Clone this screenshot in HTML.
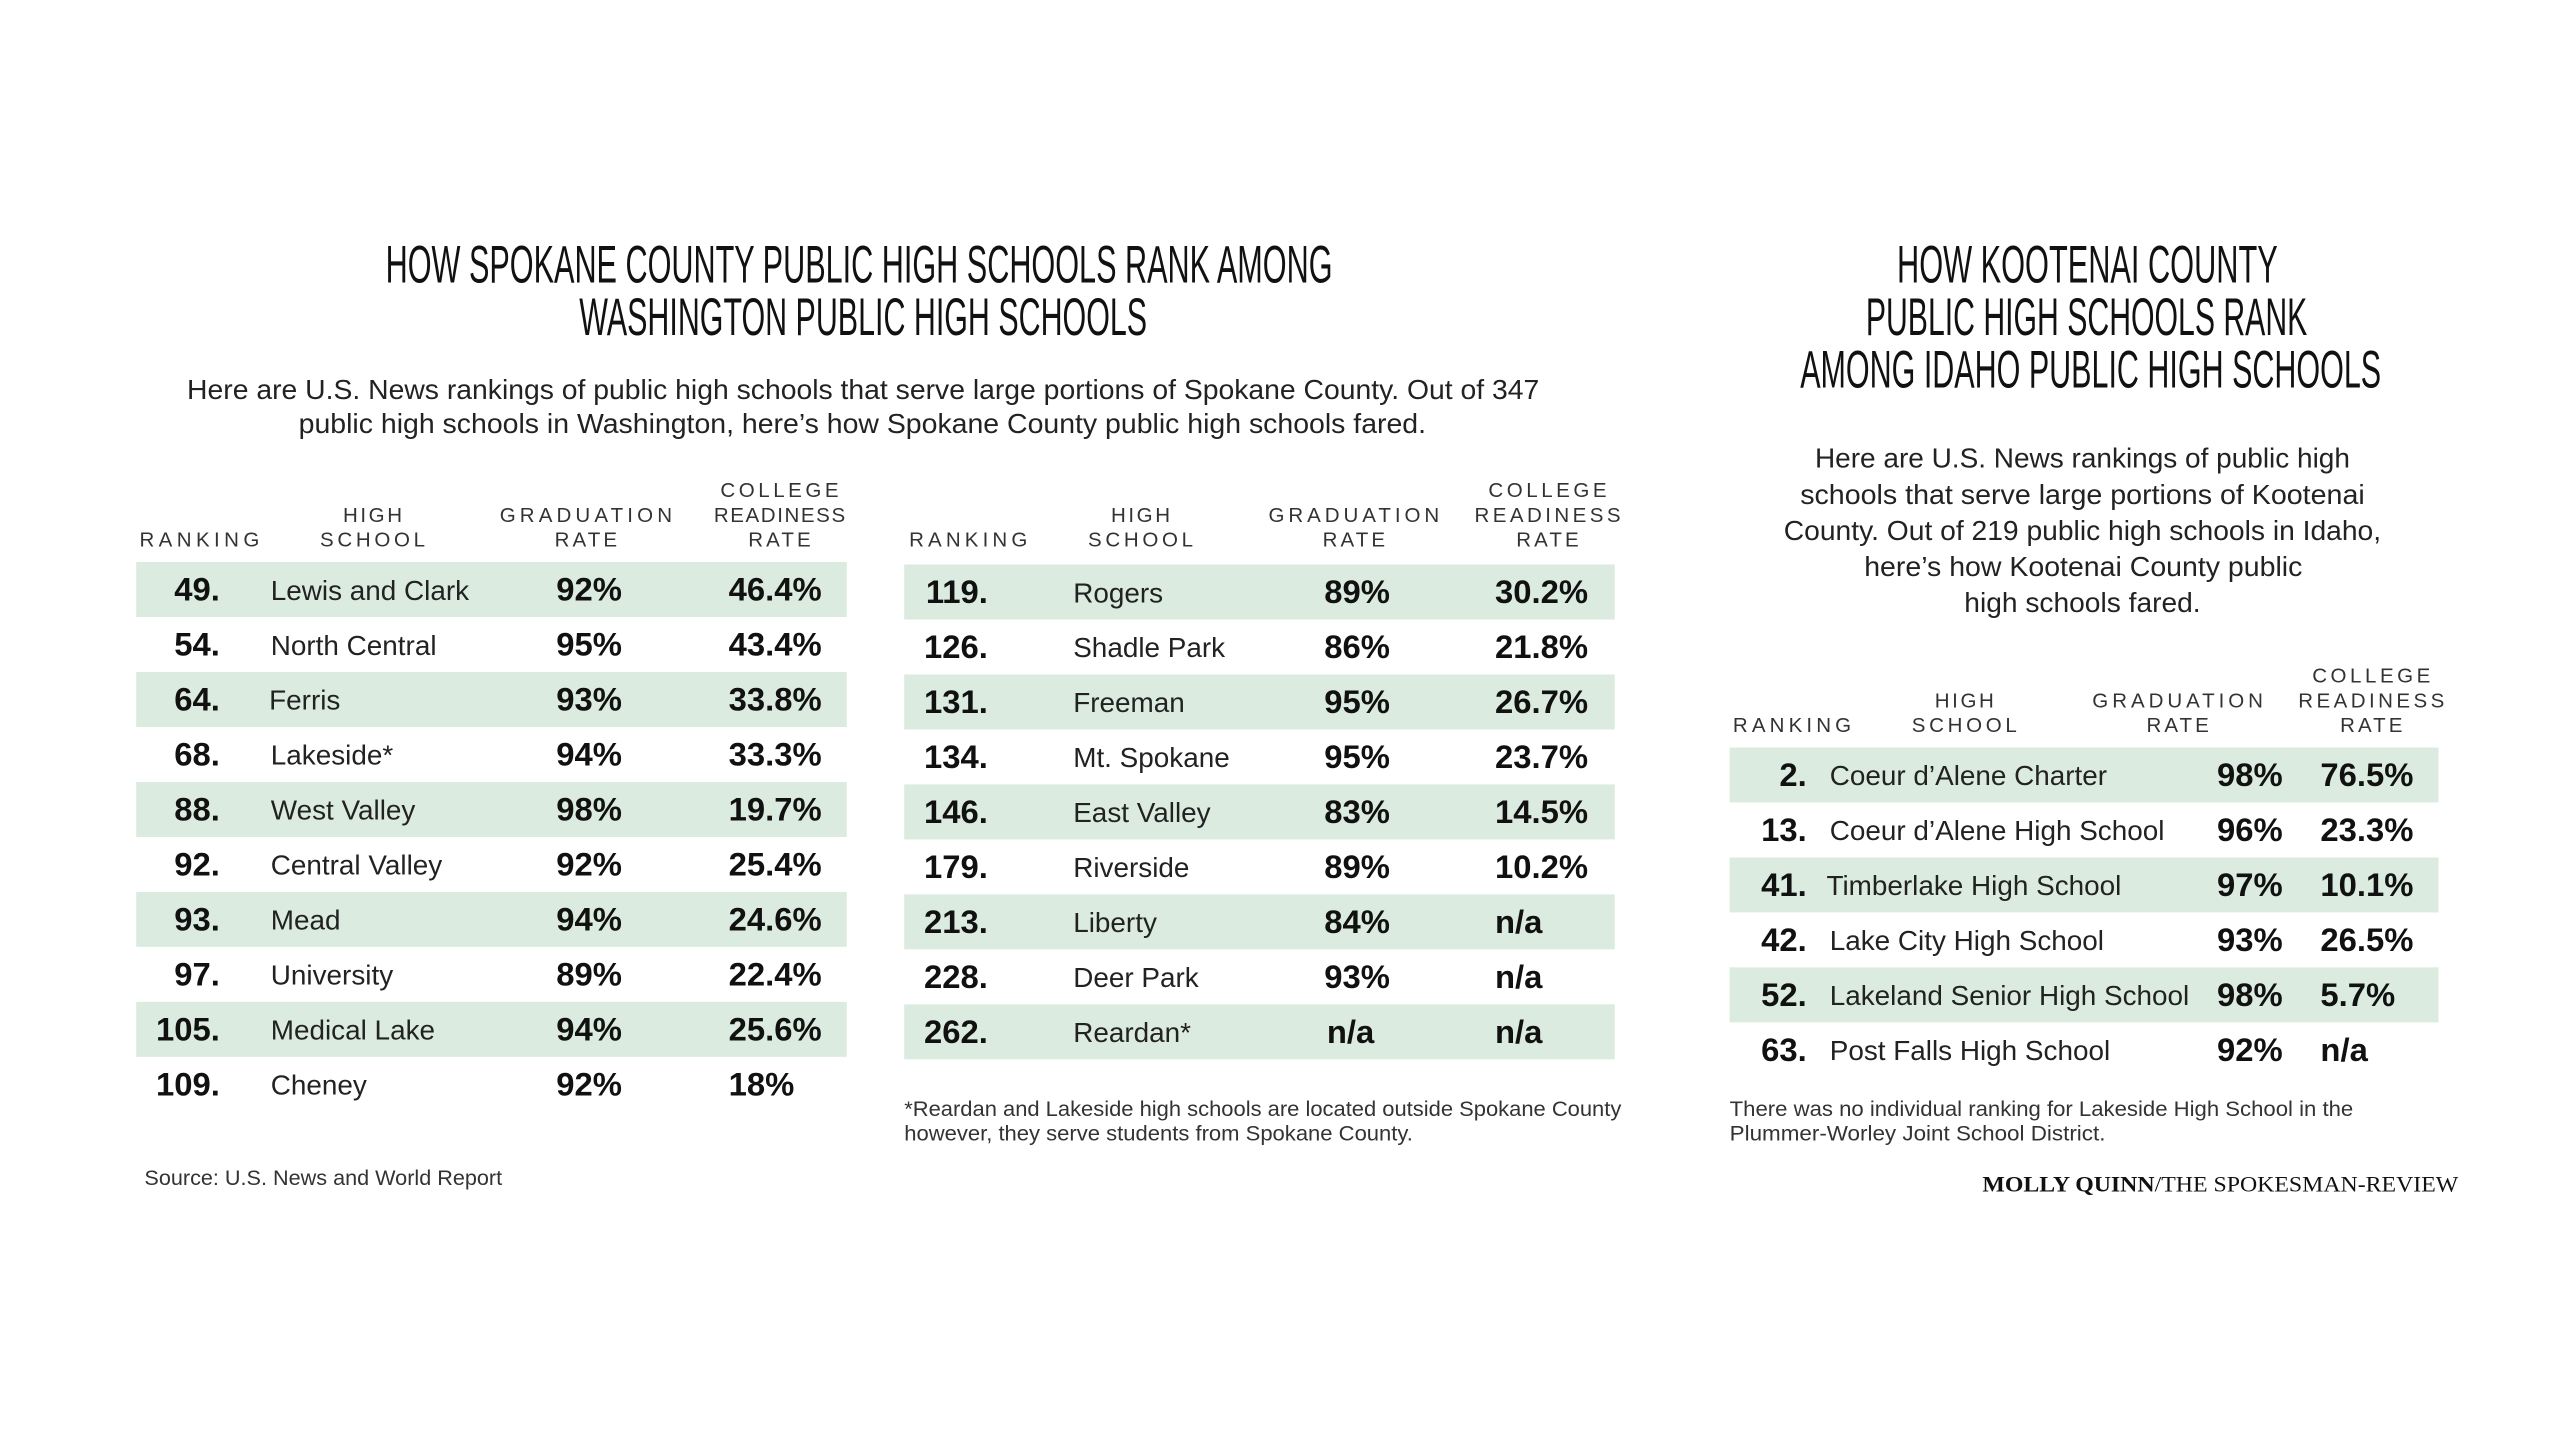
<!DOCTYPE html>
<html><head><meta charset="utf-8">
<style>
html,body{margin:0;padding:0;background:#fff;width:2560px;height:1441px;overflow:hidden}
svg{display:block}
.t{font-family:"Liberation Sans Narrow","Liberation Sans",sans-serif;fill:#111}
.p{font-family:"Liberation Sans",sans-serif;fill:#222}
.h{font-family:"Liberation Sans",sans-serif;fill:#333;font-size:12.5px}
.b{font-family:"Liberation Sans",sans-serif;font-weight:bold;fill:#111;font-size:20px}
.n{font-family:"Liberation Sans",sans-serif;fill:#222;font-size:17px}
.f{font-family:"Liberation Sans",sans-serif;fill:#333;font-size:13px}
</style></head><body>
<svg width="2560" height="1441" viewBox="0 0 1560 878.1" xmlns="http://www.w3.org/2000/svg">
<rect width="1560" height="878.1" fill="#fff"/>
<!-- Left title -->
<text class="t" x="235" y="172" font-size="32" textLength="577" lengthAdjust="spacingAndGlyphs">HOW SPOKANE COUNTY PUBLIC HIGH SCHOOLS RANK AMONG</text>
<text class="t" x="353" y="204" font-size="32" textLength="346" lengthAdjust="spacingAndGlyphs">WASHINGTON PUBLIC HIGH SCHOOLS</text>
<text class="p" x="114" y="243" font-size="17" textLength="824" lengthAdjust="spacingAndGlyphs">Here are U.S. News rankings of public high schools that serve large portions of Spokane County. Out of 347</text>
<text class="p" x="182" y="264" font-size="17" textLength="687" lengthAdjust="spacingAndGlyphs">public high schools in Washington, here’s how Spokane County public high schools fared.</text>

<!-- Table 1 headers -->
<g class="h" text-anchor="middle">
<text x="121.5" y="333" textLength="73" lengthAdjust="spacing">RANKING</text>
<text x="227" y="318" textLength="36" lengthAdjust="spacing">HIGH</text>
<text x="227" y="333" textLength="64" lengthAdjust="spacing">SCHOOL</text>
<text x="357" y="318" textLength="105" lengthAdjust="spacing">GRADUATION</text>
<text x="357" y="333" textLength="38" lengthAdjust="spacing">RATE</text>
<text x="475" y="303" textLength="72" lengthAdjust="spacing">COLLEGE</text>
<text x="475" y="318" textLength="80" lengthAdjust="spacing">READINESS</text>
<text x="475" y="333" textLength="38" lengthAdjust="spacing">RATE</text>
</g>
<!-- Table 2 headers -->
<g class="h" text-anchor="middle">
<text x="590" y="333" textLength="72" lengthAdjust="spacing">RANKING</text>
<text x="695" y="318" textLength="36" lengthAdjust="spacing">HIGH</text>
<text x="695" y="333" textLength="64" lengthAdjust="spacing">SCHOOL</text>
<text x="825" y="318" textLength="104" lengthAdjust="spacing">GRADUATION</text>
<text x="825" y="333" textLength="38" lengthAdjust="spacing">RATE</text>
<text x="943" y="303" textLength="72" lengthAdjust="spacing">COLLEGE</text>
<text x="943" y="318" textLength="89" lengthAdjust="spacing">READINESS</text>
<text x="943" y="333" textLength="38" lengthAdjust="spacing">RATE</text>
</g>

<!-- Table 1 rows -->
<g fill="#dbebdf">
<rect x="83" y="342.5" width="433" height="33.5"/>
<rect x="83" y="409.5" width="433" height="33.5"/>
<rect x="83" y="476.5" width="433" height="33.5"/>
<rect x="83" y="543.5" width="433" height="33.5"/>
<rect x="83" y="610.5" width="433" height="33.5"/>
</g>
<g class="b" text-anchor="end">
<text x="134" y="366">49.</text><text x="134" y="399.5">54.</text><text x="134" y="433">64.</text><text x="134" y="466.5">68.</text><text x="134" y="500">88.</text><text x="134" y="533.5">92.</text><text x="134" y="567">93.</text><text x="134" y="600.5">97.</text><text x="134" y="634">105.</text><text x="134" y="667.5">109.</text>
</g>
<g class="n">
<text x="165" y="365.5">Lewis and Clark</text><text x="165" y="399">North Central</text><text x="164" y="432.5">Ferris</text><text x="165" y="466">Lakeside*</text><text x="165" y="499.5">West Valley</text><text x="165" y="533">Central Valley</text><text x="165" y="566.5">Mead</text><text x="165" y="600">University</text><text x="165" y="633.5">Medical Lake</text><text x="165" y="667">Cheney</text>
</g>
<g class="b" text-anchor="middle">
<text x="359" y="366">92%</text><text x="359" y="399.5">95%</text><text x="359" y="433">93%</text><text x="359" y="466.5">94%</text><text x="359" y="500">98%</text><text x="359" y="533.5">92%</text><text x="359" y="567">94%</text><text x="359" y="600.5">89%</text><text x="359" y="634">94%</text><text x="359" y="667.5">92%</text>
</g>
<g class="b">
<text x="444" y="366">46.4%</text><text x="444" y="399.5">43.4%</text><text x="444" y="433">33.8%</text><text x="444" y="466.5">33.3%</text><text x="444" y="500">19.7%</text><text x="444" y="533.5">25.4%</text><text x="444" y="567">24.6%</text><text x="444" y="600.5">22.4%</text><text x="444" y="634">25.6%</text><text x="444" y="667.5">18%</text>
</g>

<!-- Table 2 rows -->
<g fill="#dbebdf">
<rect x="551" y="344" width="433" height="33.5"/>
<rect x="551" y="411" width="433" height="33.5"/>
<rect x="551" y="478" width="433" height="33.5"/>
<rect x="551" y="545" width="433" height="33.5"/>
<rect x="551" y="612" width="433" height="33.5"/>
</g>
<g class="b" text-anchor="end">
<text x="602" y="367.5">119.</text><text x="602" y="401">126.</text><text x="602" y="434.5">131.</text><text x="602" y="468">134.</text><text x="602" y="501.5">146.</text><text x="602" y="535">179.</text><text x="602" y="568.5">213.</text><text x="602" y="602">228.</text><text x="602" y="635.5">262.</text>
</g>
<g class="n">
<text x="654" y="367">Rogers</text><text x="654" y="400.5">Shadle Park</text><text x="654" y="434">Freeman</text><text x="654" y="467.5">Mt. Spokane</text><text x="654" y="501">East Valley</text><text x="654" y="534.5">Riverside</text><text x="654" y="568">Liberty</text><text x="654" y="601.5">Deer Park</text><text x="654" y="635">Reardan*</text>
</g>
<g class="b" text-anchor="middle">
<text x="827" y="367.5">89%</text><text x="827" y="401">86%</text><text x="827" y="434.5">95%</text><text x="827" y="468">95%</text><text x="827" y="501.5">83%</text><text x="827" y="535">89%</text><text x="827" y="568.5">84%</text><text x="827" y="602">93%</text><text x="823" y="635.5">n/a</text>
</g>
<g class="b">
<text x="911" y="367.5">30.2%</text><text x="911" y="401">21.8%</text><text x="911" y="434.5">26.7%</text><text x="911" y="468">23.7%</text><text x="911" y="501.5">14.5%</text><text x="911" y="535">10.2%</text><text x="911" y="568.5">n/a</text><text x="911" y="602">n/a</text><text x="911" y="635.5">n/a</text>
</g>

<text class="f" x="551" y="680" textLength="437" lengthAdjust="spacingAndGlyphs">*Reardan and Lakeside high schools are located outside Spokane County</text>
<text class="f" x="551" y="695" textLength="310" lengthAdjust="spacingAndGlyphs">however, they serve students from Spokane County.</text>
<text class="f" x="88" y="722" textLength="218" lengthAdjust="spacingAndGlyphs">Source: U.S. News and World Report</text>

<!-- Right title -->
<text class="t" x="1156" y="172" font-size="32" textLength="232" lengthAdjust="spacingAndGlyphs">HOW KOOTENAI COUNTY</text>
<text class="t" x="1137" y="204" font-size="32" textLength="269" lengthAdjust="spacingAndGlyphs">PUBLIC HIGH SCHOOLS RANK</text>
<text class="t" x="1097" y="236" font-size="32" textLength="354" lengthAdjust="spacingAndGlyphs">AMONG IDAHO PUBLIC HIGH SCHOOLS</text>
<text class="p" x="1106" y="285" font-size="17" textLength="326" lengthAdjust="spacingAndGlyphs">Here are U.S. News rankings of public high</text>
<text class="p" x="1097" y="307" font-size="17" textLength="344" lengthAdjust="spacingAndGlyphs">schools that serve large portions of Kootenai</text>
<text class="p" x="1087" y="329" font-size="17" textLength="364" lengthAdjust="spacingAndGlyphs">County. Out of 219 public high schools in Idaho,</text>
<text class="p" x="1136" y="351" font-size="17" textLength="267" lengthAdjust="spacingAndGlyphs">here’s how Kootenai County public</text>
<text class="p" x="1197" y="373" font-size="17" textLength="144" lengthAdjust="spacingAndGlyphs">high schools fared.</text>

<g class="h" text-anchor="middle">
<text x="1092" y="446" textLength="72" lengthAdjust="spacing">RANKING</text>
<text x="1197" y="431" textLength="36" lengthAdjust="spacing">HIGH</text>
<text x="1197" y="446" textLength="64" lengthAdjust="spacing">SCHOOL</text>
<text x="1327" y="431" textLength="104" lengthAdjust="spacing">GRADUATION</text>
<text x="1327" y="446" textLength="38" lengthAdjust="spacing">RATE</text>
<text x="1445" y="416" textLength="72" lengthAdjust="spacing">COLLEGE</text>
<text x="1445" y="431" textLength="89" lengthAdjust="spacing">READINESS</text>
<text x="1445" y="446" textLength="38" lengthAdjust="spacing">RATE</text>
</g>
<g fill="#dbebdf">
<rect x="1054" y="455.5" width="432" height="33.5"/>
<rect x="1054" y="522.5" width="432" height="33.5"/>
<rect x="1054" y="589.5" width="432" height="33.5"/>
</g>
<g class="b" text-anchor="end">
<text x="1101" y="479">2.</text><text x="1101" y="512.5">13.</text><text x="1101" y="546">41.</text><text x="1101" y="579.5">42.</text><text x="1101" y="613">52.</text><text x="1101" y="646.5">63.</text>
</g>
<g class="n">
<text x="1115" y="478.5">Coeur d’Alene Charter</text><text x="1115" y="512">Coeur d’Alene High School</text><text x="1113" y="545.5">Timberlake High School</text><text x="1115" y="579">Lake City High School</text><text x="1115" y="612.5">Lakeland Senior High School</text><text x="1115" y="646">Post Falls High School</text>
</g>
<g class="b">
<text x="1351" y="479">98%</text><text x="1351" y="512.5">96%</text><text x="1351" y="546">97%</text><text x="1351" y="579.5">93%</text><text x="1351" y="613">98%</text><text x="1351" y="646.5">92%</text>
</g>
<g class="b">
<text x="1414" y="479">76.5%</text><text x="1414" y="512.5">23.3%</text><text x="1414" y="546">10.1%</text><text x="1414" y="579.5">26.5%</text><text x="1414" y="613">5.7%</text><text x="1414" y="646.5">n/a</text>
</g>
<text class="f" x="1054" y="680" textLength="380" lengthAdjust="spacingAndGlyphs">There was no individual ranking for Lakeside High School in the</text>
<text class="f" x="1054" y="695" textLength="229" lengthAdjust="spacingAndGlyphs">Plummer-Worley Joint School District.</text>
<text x="1208" y="726" font-family="Liberation Serif, serif" font-size="13.5" fill="#111" textLength="290" lengthAdjust="spacingAndGlyphs"><tspan font-weight="bold">MOLLY QUINN</tspan>/THE SPOKESMAN-REVIEW</text>
</svg>
</body></html>
